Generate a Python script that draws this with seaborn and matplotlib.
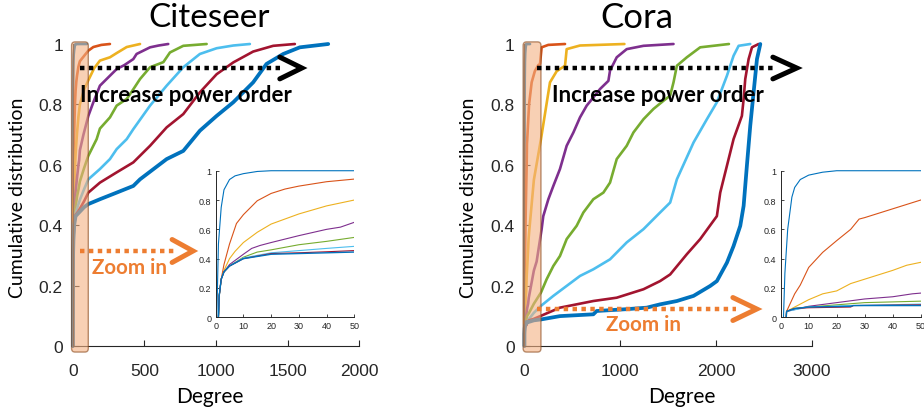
import pandas as pd
import matplotlib
matplotlib.use("Agg")
import matplotlib.pyplot as plt
from matplotlib.patches import FancyBboxPatch, Rectangle
import seaborn as sns

# ---- data (degree, cumulative distribution) ----
orders = [1, 2, 3, 4, 5, 6, 7, 8]
line_colors = ['#0072BD', '#D95319', '#EDB120', '#7E2F8E',
               '#77AC30', '#4DBEEE', '#A2142F', '#0072BD']

# Citeseer
cs1_deg = [0.4, 1, 2, 3, 5, 7, 10, 15, 20, 30, 99]
cs1_cdf = [0, 0.5, 0.75, 0.87, 0.94, 0.965, 0.98, 0.995, 1.0, 1.0, 1.0]
cs2_deg = [1, 1.3, 2, 3, 5, 7.5, 10, 15, 20, 25, 30, 40, 50, 70, 109, 144, 200, 260]
cs2_cdf = [0, 0.15, 0.26, 0.36, 0.50, 0.64, 0.70, 0.795, 0.845, 0.875, 0.895, 0.925,
           0.943, 0.955, 0.978, 0.99, 0.997, 1.0]
cs3_deg = [1, 1.3, 2, 3, 5, 7, 10, 15, 20, 30, 40, 50, 80, 109, 150, 190, 260, 307, 377, 470]
cs3_cdf = [0, 0.15, 0.26, 0.32, 0.40, 0.45, 0.51, 0.58, 0.636, 0.705, 0.76, 0.80, 0.85,
           0.88, 0.92, 0.945, 0.956, 0.97, 0.99, 1.0]
cs4_deg = [1, 1.3, 2, 3, 5, 10, 13, 16, 20, 30, 40, 45, 50, 75, 109, 144, 190, 260, 307,
           360, 423, 446, 540, 600, 667]
cs4_cdf = [0, 0.15, 0.26, 0.31, 0.36, 0.43, 0.47, 0.49, 0.51, 0.557, 0.60, 0.615, 0.648,
           0.70, 0.762, 0.807, 0.862, 0.895, 0.917, 0.93, 0.95, 0.967, 0.989, 0.995, 1.0]
cs5_deg = [1, 1.3, 2, 3, 5, 10, 15, 20, 30, 40, 50, 80, 109, 167, 190, 260, 307, 377, 423,
           470, 540, 633, 679, 772, 935]
cs5_cdf = [0, 0.15, 0.26, 0.31, 0.35, 0.41, 0.445, 0.46, 0.495, 0.518, 0.545, 0.59, 0.63,
           0.685, 0.72, 0.757, 0.796, 0.818, 0.85, 0.884, 0.923, 0.94, 0.972, 0.994, 1.0]
cs6_deg = [1, 1.3, 2, 3, 5, 10, 20, 30, 40, 50, 80, 109, 190, 260, 307, 377, 423, 540, 656,
           772, 888, 1005, 1121, 1237]
cs6_cdf = [0, 0.15, 0.26, 0.31, 0.35, 0.405, 0.44, 0.455, 0.47, 0.484, 0.52, 0.552, 0.586,
           0.619, 0.652, 0.685, 0.718, 0.796, 0.862, 0.923, 0.967, 0.986, 0.995, 1.0]
cs7_deg = [1, 1.3, 2, 3, 5, 10, 20, 30, 40, 50, 80, 109, 190, 307, 423, 540, 656, 772, 888,
           1005, 1121, 1260, 1400, 1551]
cs7_cdf = [0, 0.15, 0.26, 0.31, 0.35, 0.40, 0.435, 0.44, 0.447, 0.455, 0.48, 0.508, 0.541,
           0.575, 0.608, 0.663, 0.724, 0.768, 0.840, 0.90, 0.939, 0.975, 0.994, 1.0]
cs8_deg = [1, 1.3, 2, 3, 5, 10, 20, 30, 40, 50, 80, 109, 190, 307, 423, 470, 656, 772, 888,
           1005, 1121, 1260, 1353, 1470, 1586, 1784]
cs8_cdf = [0, 0.15, 0.26, 0.31, 0.35, 0.40, 0.43, 0.435, 0.44, 0.445, 0.46, 0.47, 0.486,
           0.508, 0.53, 0.552, 0.619, 0.646, 0.713, 0.762, 0.807, 0.873, 0.934, 0.967,
           0.989, 1.0]

# Cora
co1_deg = [1, 1.5, 2.5, 4, 5, 7, 10, 15, 20, 60]
co1_cdf = [0, 0.3, 0.6, 0.82, 0.886, 0.94, 0.97, 0.99, 1.0, 1.0]
co2_deg = [2, 2.1, 5, 7, 10, 15, 20, 25, 28, 30, 40, 50, 77, 110, 146, 164, 181, 250, 425]
co2_cdf = [0, 0.04, 0.16, 0.22, 0.34, 0.443, 0.523, 0.60, 0.67, 0.68, 0.74, 0.80, 0.873,
           0.91, 0.93, 0.934, 0.989, 0.997, 1.0]
co3_deg = [2, 2.1, 5, 10, 15, 20, 25, 30, 35, 40, 45, 50, 100, 174, 268, 338, 425, 442, 581, 1044]
co3_cdf = [0, 0.04, 0.07, 0.12, 0.16, 0.18, 0.23, 0.26, 0.29, 0.32, 0.355, 0.375, 0.55,
           0.685, 0.873, 0.91, 0.928, 0.983, 0.995, 1.0]
co4_deg = [2, 2.1, 10, 20, 30, 40, 47, 50, 100, 129, 181, 198, 251, 303, 372, 442, 512, 581,
           651, 720, 790, 877, 894, 964, 1068, 1243, 1556]
co4_cdf = [0, 0.04, 0.075, 0.10, 0.125, 0.14, 0.16, 0.165, 0.25, 0.28, 0.387, 0.43, 0.486,
           0.53, 0.586, 0.663, 0.707, 0.757, 0.796, 0.823, 0.851, 0.878, 0.912, 0.956,
           0.983, 0.994, 1.0]
co5_deg = [2, 2.1, 5, 10, 20, 30, 50, 100, 174, 233, 303, 372, 442, 546, 616, 720, 825, 894,
           964, 1068, 1138, 1243, 1347, 1451, 1521, 1556, 1591, 1695, 1834, 2134]
co5_cdf = [0, 0.04, 0.06, 0.07, 0.085, 0.10, 0.11, 0.14, 0.177, 0.221, 0.265, 0.298, 0.354,
           0.398, 0.442, 0.486, 0.508, 0.541, 0.619, 0.663, 0.707, 0.751, 0.785, 0.812,
           0.829, 0.873, 0.928, 0.956, 0.989, 1.0]
co6_deg = [2, 2.1, 10, 25, 50, 100, 174, 303, 442, 581, 720, 894, 1068, 1243, 1416, 1521,
           1591, 1765, 1904, 2008, 2113, 2182, 2235, 2356]
co6_cdf = [0, 0.04, 0.07, 0.08, 0.09, 0.11, 0.133, 0.166, 0.199, 0.232, 0.254, 0.287, 0.343,
           0.387, 0.442, 0.475, 0.552, 0.674, 0.751, 0.807, 0.895, 0.961, 0.994, 1.0]
co7_deg = [2, 2.1, 5, 10, 25, 26, 50, 100, 174, 372, 720, 964, 1243, 1416, 1521, 1695, 1834,
           2008, 2043, 2113, 2182, 2269, 2287, 2304, 2339, 2374, 2443]
co7_cdf = [0, 0.04, 0.06, 0.065, 0.07, 0.08, 0.085, 0.09, 0.10, 0.127, 0.149, 0.16, 0.188,
           0.215, 0.237, 0.304, 0.354, 0.43, 0.508, 0.597, 0.685, 0.762, 0.818, 0.884,
           0.95, 0.989, 1.0]
co8_deg = [2, 2.1, 5, 10, 25, 26, 50, 100, 174, 372, 720, 755, 1068, 1277, 1416, 1591, 1765,
           1939, 2008, 2113, 2182, 2252, 2287, 2321, 2356, 2391, 2426, 2461]
co8_cdf = [0, 0.04, 0.06, 0.07, 0.075, 0.08, 0.08, 0.085, 0.088, 0.099, 0.105, 0.116, 0.122,
           0.127, 0.138, 0.149, 0.166, 0.199, 0.215, 0.276, 0.331, 0.398, 0.464, 0.597,
           0.729, 0.840, 0.950, 1.0]

main_yticks = [0, 0.2, 0.4, 0.6, 0.8, 1]
main_yticklabels = ['0', '0.2', '0.4', '0.6', '0.8', '1']
cs_xticks = [0, 500, 1000, 1500, 2000]
co_xticks = [0, 1000, 2000, 3000]
inset_xticks = [0, 10, 20, 30, 40, 50]


def to_frame(degs, cdfs):
    parts = []
    for k, d, c in zip(orders, degs, cdfs):
        parts.append(pd.DataFrame({'degree': d, 'cdf': c, 'order': k}))
    return pd.concat(parts, ignore_index=True)


cs_df = to_frame([cs1_deg, cs2_deg, cs3_deg, cs4_deg, cs5_deg, cs6_deg, cs7_deg, cs8_deg],
                 [cs1_cdf, cs2_cdf, cs3_cdf, cs4_cdf, cs5_cdf, cs6_cdf, cs7_cdf, cs8_cdf])
co_df = to_frame([co1_deg, co2_deg, co3_deg, co4_deg, co5_deg, co6_deg, co7_deg, co8_deg],
                 [co1_cdf, co2_cdf, co3_cdf, co4_cdf, co5_cdf, co6_cdf, co7_cdf, co8_cdf])

sns.set_theme(style='white')
plt.rcParams['font.family'] = ['Liberation Sans', 'DejaVu Sans']
palette = dict(zip(orders, line_colors))
GRAY = '#262626'
ORANGE = '#ED7D31'


def draw_main(ax, df, xmax, xticks, title, title_x, title_size, xlabel_x, box_w, arrows):
    main_sizes = {k: (2.7 if k == 8 else 1.9) for k in orders}
    sns.lineplot(data=df, x='degree', y='cdf', hue='order', size='order', palette=palette,
                 sizes=main_sizes, estimator=None, sort=False, legend=False, ax=ax)
    for ln in ax.lines:
        ln.set_clip_on(False)
    ax.set_xlim(0, xmax)
    ax.set_ylim(0, 1)
    ax.set_xticks(xticks)
    ax.set_xticklabels([str(t) for t in xticks])
    ax.set_yticks(main_yticks)
    ax.set_yticklabels(main_yticklabels)
    ax.set_xlabel('')
    ax.set_ylabel('')
    ax.tick_params(direction='in', length=4, width=0.8, colors=GRAY, labelsize=12.5,
                   pad=7, bottom=True, left=True)
    ax.tick_params(axis='x', pad=12)
    for s in ['top', 'right']:
        ax.spines[s].set_visible(False)
    for s in ['left', 'bottom']:
        ax.spines[s].set_color(GRAY)
        ax.spines[s].set_linewidth(0.8)

    ax.text(title_x, 1.088, title, transform=ax.transAxes, ha='center', va='center',
            fontsize=title_size, family='Lato', color='black')
    ax.text(xlabel_x, -0.166, 'Degree', transform=ax.transAxes, ha='center', va='center',
            fontsize=15, family='Lato', color='black')
    ax.text(-0.193, 0.493, 'Cumulative distribution', transform=ax.transAxes, rotation=90,
            ha='center', va='center', fontsize=14, family='Lato', color='black')

    # highlighted low-degree band
    box = FancyBboxPatch((-0.004, -0.02), box_w + 0.004, 1.027,
                         boxstyle='round,pad=0,rounding_size=0.012',
                         transform=ax.transAxes, facecolor='#F4B183', alpha=0.6,
                         edgecolor='#8B4A1C', linewidth=1.0, clip_on=False, zorder=5)
    ax.add_patch(box)

    (bx0, bx1, bback, by, tx, ty), (ox0, ox1, oback, oy, zx, zy) = arrows
    ax.plot([bx0, bback + 0.01], [by, by], transform=ax.transAxes, color='black', lw=3.2,
            ls=(0, (1, 1)), clip_on=False, zorder=6)
    ax.plot([bback, bx1, bback], [by + 0.036, by, by - 0.036], transform=ax.transAxes,
            color='black', lw=3.6, solid_joinstyle='miter', clip_on=False, zorder=6)
    ax.text(tx, ty, 'Increase power order', transform=ax.transAxes, ha='center',
            va='center', fontsize=16, fontweight='bold', family='Lato', color='black',
            zorder=7)
    ax.plot([ox0, oback + 0.01], [oy, oy], transform=ax.transAxes, color=ORANGE, lw=3.2,
            ls=(0, (1, 1)), clip_on=False, zorder=6)
    ax.plot([oback, ox1, oback], [oy + 0.038, oy, oy - 0.038], transform=ax.transAxes,
            color=ORANGE, lw=3.6, solid_joinstyle='miter', clip_on=False, zorder=6)
    ax.text(zx, zy, 'Zoom in', transform=ax.transAxes, ha='center', va='center',
            fontsize=14.8, fontweight='bold', family='Lato', color=ORANGE, zorder=7)


def draw_inset(ax, df):
    inset_sizes = {k: (1.0 if k == 8 else 0.8) for k in orders}
    sns.lineplot(data=df, x='degree', y='cdf', hue='order', size='order', palette=palette,
                 sizes=inset_sizes, estimator=None, sort=False, legend=False, ax=ax)
    # clip in x only, so lines at cdf = 1 are drawn at full width
    clip = Rectangle((0, -0.05), 1, 1.1, transform=ax.transAxes, visible=False)
    ax.add_patch(clip)
    for ln in ax.lines:
        ln.set_clip_path(clip)
    ax.set_xlim(0, 50)
    ax.set_ylim(0, 1)
    ax.set_xticks(inset_xticks)
    ax.set_xticklabels([str(t) for t in inset_xticks])
    ax.set_yticks(main_yticks)
    ax.set_yticklabels(main_yticklabels)
    ax.set_xlabel('')
    ax.set_ylabel('')
    ax.tick_params(direction='in', length=2.5, width=0.6, colors=GRAY, labelsize=6.5,
                   pad=3, bottom=True, left=True)
    ax.set_facecolor('white')
    for s in ['top', 'right']:
        ax.spines[s].set_visible(False)
    for s in ['left', 'bottom']:
        ax.spines[s].set_color(GRAY)
        ax.spines[s].set_linewidth(0.7)


fig = plt.figure(figsize=(9.24, 4.14), dpi=100)
ax_cs = fig.add_axes([0.0787, 0.1618, 0.310, 0.7295])
ax_co = fig.add_axes([0.5674, 0.1618, 0.3114, 0.7295])

draw_main(ax_cs, cs_df, 2000, cs_xticks, 'Citeseer', 0.476, 24, 0.479, 0.0544,
          ((0.0255, 0.80, 0.723, 0.9205, 0.396, 0.834),
           (0.0255, 0.42, 0.347, 0.3146, 0.198, 0.26)))
draw_main(ax_co, co_df, 3000, co_xticks, 'Cora', 0.392, 25, 0.548, 0.058,
          ((0.044, 0.947, 0.864, 0.9205, 0.465, 0.834),
           (0.044, 0.808, 0.725, 0.1225, 0.416, 0.073)))

in_cs = fig.add_axes([0.2334, 0.2312, 0.150, 0.354])
in_co = fig.add_axes([0.8449, 0.2312, 0.1515, 0.354])
draw_inset(in_cs, cs_df)
draw_inset(in_co, co_df)

fig.savefig('out.png', dpi=100, facecolor='white')
